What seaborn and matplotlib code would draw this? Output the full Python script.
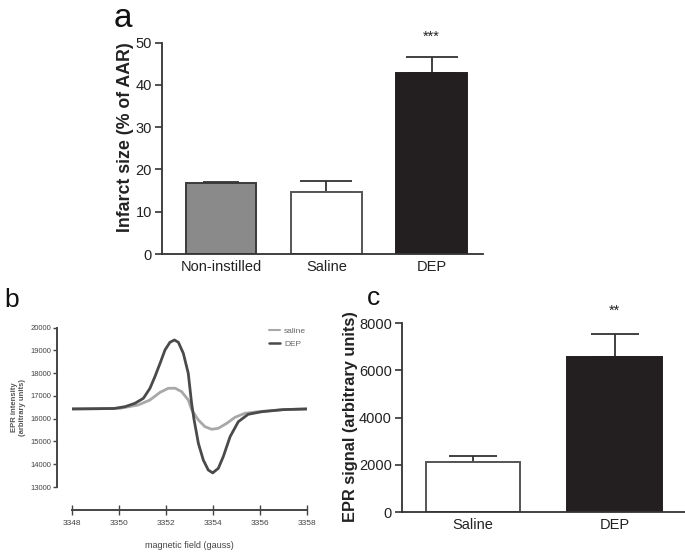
import matplotlib
matplotlib.use("Agg")
import matplotlib.pyplot as plt
import seaborn as sns
import numpy as np
import pandas as pd
from matplotlib.lines import Line2D

# ---------------- data ----------------
# panel a
a_categories = ["Non-instilled", "Saline", "DEP"]
a_values = [16.7, 14.7, 42.9]
a_errors = [0.4, 2.6, 3.6]
a_yticks = [0, 10, 20, 30, 40, 50]
a_ylabel = "Infarct size (% of AAR)"
a_sig = "***"

# panel b
saline_x = [3348.0, 3349.0, 3350.06, 3350.83, 3351.33, 3351.76, 3352.11, 3352.40,
            3352.68, 3352.96, 3353.11, 3353.39, 3353.67, 3353.96, 3354.24, 3354.60,
            3354.95, 3355.37, 3355.94, 3357.0, 3358.0]
saline_y = [16430, 16440, 16458, 16604, 16823, 17160, 17337, 17340,
            17189, 16823, 16384, 15945, 15650, 15536, 15580, 15800,
            16063, 16239, 16309, 16400, 16430]
dep_x = [3348.0, 3349.0, 3349.8, 3350.27, 3350.69, 3351.05, 3351.33, 3351.54,
         3351.76, 3351.97, 3352.18, 3352.37, 3352.54, 3352.75, 3352.96, 3353.10,
         3353.20, 3353.39, 3353.60, 3353.81, 3354.00, 3354.24, 3354.45, 3354.74,
         3355.09, 3355.51, 3356.09, 3357.0, 3358.0]
dep_y = [16430, 16440, 16450, 16530, 16678, 16897, 17337, 17847,
         18435, 19020, 19358, 19460, 19358, 18875, 17996, 16700,
         16000, 14920, 14187, 13748, 13620, 13822, 14334, 15211,
         15870, 16195, 16309, 16400, 16430]
b_xticks = [3348, 3350, 3352, 3354, 3356, 3358]
b_yticks = [13000, 14000, 15000, 16000, 17000, 18000, 19000, 20000]
b_series = ["saline", "DEP"]
b_xlabel = "magnetic field (gauss)"
b_ylabel = "EPR intensity\n(arbitrary units)"

# panel c
c_categories = ["Saline", "DEP"]
c_values = [2140, 6590]
c_errors = [220, 940]
c_yticks = [0, 2000, 4000, 6000, 8000]
c_ylabel = "EPR signal (arbitrary units)"
c_sig = "**"

# ---------------- style ----------------
sns.set_theme(style="ticks")
plt.rcParams["font.family"] = ["Liberation Sans", "DejaVu Sans"]
W, H = 685, 553
fig = plt.figure(figsize=(W / 100, H / 100), dpi=100)

def px_axes(left, top, right, bottom):
    return fig.add_axes([left / W, 1 - bottom / H, (right - left) / W, (bottom - top) / H])

axis_col = "#333333"
text_col = "#222222"

def style_bar_axes(ax):
    sns.despine(ax=ax)
    for s in ["left", "bottom"]:
        ax.spines[s].set_color(axis_col)
        ax.spines[s].set_linewidth(1.3)
    ax.tick_params(axis="y", length=5, width=1.2, color=axis_col, labelsize=10.5,
                   labelcolor=text_col, pad=2)
    ax.tick_params(axis="x", length=0, labelsize=10.5, labelcolor=text_col, pad=4)
    ax.set_xlabel("")

# ---------------- panel a ----------------
ax_a = px_axes(161.7, 42.7, 483, 254)
dfa = pd.DataFrame({"cat": a_categories, "val": a_values})
sns.barplot(data=dfa, x="cat", y="val", hue="cat",
            palette=["#8a8a8a", "#ffffff", "#231f20"], saturation=1,
            width=0.67, legend=False, ax=ax_a, zorder=2)
edge_cols = ["#3a3a3a", "#555555", "#231f20"]
for p, ec in zip(ax_a.patches, edge_cols):
    p.set_edgecolor(ec)
    p.set_linewidth(1.4)
caps_a = [13, 18.5, 18.5]
for i in range(len(a_values)):
    ax_a.errorbar(i, a_values[i], yerr=[[0], [a_errors[i]]], fmt="none",
                  ecolor="#333333", elinewidth=1.3, capsize=caps_a[i],
                  capthick=1.3, zorder=1)
ax_a.set_xlim(-0.564, 2.488)
ax_a.set_ylim(0, 50)
ax_a.set_yticks(a_yticks)
style_bar_axes(ax_a)
ax_a.set_ylabel(a_ylabel, fontsize=12.8, fontweight="bold", color=text_col)
ax_a.yaxis.set_label_coords(-0.087, 0.551)
ax_a.text(2, a_values[2] + a_errors[2] + 3.2, a_sig, ha="center", va="bottom",
          fontsize=10.5, color=text_col)
fig.text(123 / W, 1 - 27 / H, "a", fontsize=24, ha="center", va="baseline", color="#111111")

# ---------------- panel b ----------------
ax_b = px_axes(71.7, 327.7, 306.7, 487)
dfb = pd.concat([
    pd.DataFrame({"x": saline_x, "y": saline_y, "s": b_series[0]}),
    pd.DataFrame({"x": dep_x, "y": dep_y, "s": b_series[1]}),
])
sns.lineplot(data=dfb, x="x", y="y", hue="s", palette=["#a8a8a8", "#4a4a4a"],
             linewidth=2.0, legend=False, ax=ax_b, sort=False)
for ln in ax_b.lines:
    ln.set_solid_joinstyle("round")
    ln.set_solid_capstyle("round")
ax_b.set_xlim(3348, 3358)
ax_b.set_ylim(13000, 20000)
ax_b.set_xticks(b_xticks)
ax_b.set_yticks(b_yticks)
sns.despine(ax=ax_b)
ax_b.spines["left"].set_position(("outward", 10.4))
ax_b.spines["bottom"].set_position(("outward", 16.2))
for s in ["left", "bottom"]:
    ax_b.spines[s].set_color("#444444")
    ax_b.spines[s].set_linewidth(1.4)
ax_b.tick_params(axis="y", length=3, width=1.0, color="#444444", labelsize=5.5,
                 labelcolor="#444444", pad=1.5)
ax_b.tick_params(axis="x", direction="inout", length=7, width=1.0, color="#444444",
                 labelsize=6, labelcolor="#444444", pad=4)
ax_b.set_xlabel(b_xlabel, fontsize=6.5, color="#444444", labelpad=10)
ax_b.set_ylabel(b_ylabel, fontsize=5.5, fontweight="bold", color="#555555", labelpad=3)
handles = [Line2D([0], [0], color="#a8a8a8", lw=1.5),
           Line2D([0], [0], color="#4a4a4a", lw=1.8)]
ax_b.legend(handles, b_series, loc="upper right", bbox_to_anchor=(1.03, 1.05),
            frameon=False, fontsize=6, handlelength=1.3, handletextpad=0.5,
            labelcolor="#666666", labelspacing=0.6)
fig.text(12 / W, 1 - 307 / H, "b", fontsize=19, ha="center", va="baseline", color="#111111")

# ---------------- panel c ----------------
ax_c = px_axes(401.7, 323.3, 685, 512)
dfc = pd.DataFrame({"cat": c_categories, "val": c_values})
sns.barplot(data=dfc, x="cat", y="val", hue="cat",
            palette=["#ffffff", "#231f20"], saturation=1,
            width=0.667, legend=False, ax=ax_c, zorder=2)
for p, ec in zip(ax_c.patches, ["#555555", "#231f20"]):
    p.set_edgecolor(ec)
    p.set_linewidth(1.4)
for i in range(len(c_values)):
    ax_c.errorbar(i, c_values[i], yerr=[[0], [c_errors[i]]], fmt="none",
                  ecolor="#333333", elinewidth=1.3, capsize=17.5,
                  capthick=1.3, zorder=1)
ax_c.set_xlim(-0.503, 1.497)
ax_c.set_ylim(0, 8000)
ax_c.set_yticks(c_yticks)
style_bar_axes(ax_c)
ax_c.set_ylabel(c_ylabel, fontsize=11.8, fontweight="bold", color=text_col)
ax_c.yaxis.set_label_coords(-0.155, 0.506)
ax_c.text(1, c_values[1] + c_errors[1] + 700, c_sig, ha="center", va="bottom",
          fontsize=10.5, color=text_col)
fig.text(373 / W, 1 - 305 / H, "c", fontsize=19, ha="center", va="baseline", color="#111111")

fig.savefig("out.png", dpi=100)
